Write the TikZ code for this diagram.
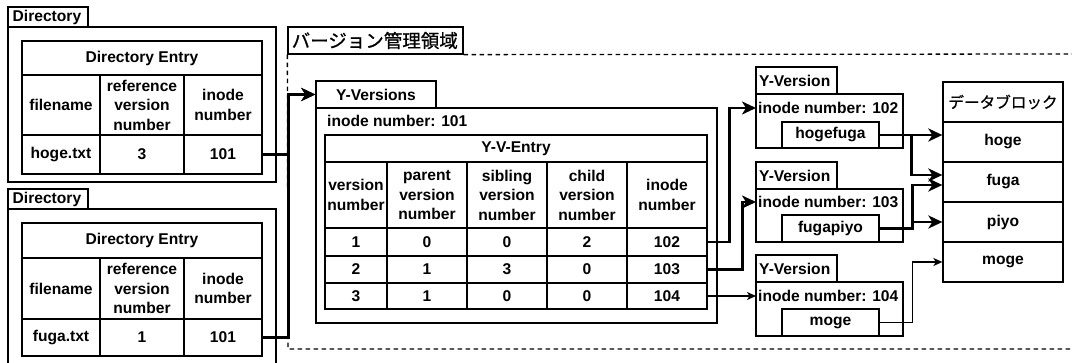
\documentclass[tikz,border=0pt]{standalone}
\usepackage{fontspec}
\setmainfont{Liberation Sans}
\newfontfamily\jpfont[FakeBold=0.8]{Noto Sans CJK JP}
\usetikzlibrary{arrows.meta}
\newcommand\cb[7][]{%
  \pgfmathsetmacro\cbx{(#3+#5)/2}%
  \pgfmathsetmacro\cby{(#4+#6)/2}%
  \pgfmathsetmacro\cbw{#5-#3}%
  \pgfmathsetmacro\cbh{#6-#4}%
  \node[cell,minimum width=\cbw pt,minimum height=\cbh pt,#1] (#2) at (\cbx,\cby) {#7};}
\begin{document}
\begin{tikzpicture}[x=1pt,y=-1pt,
  cell/.style={draw, line width=1.3pt, inner sep=0pt, align=center, font=\bfseries\fontsize{15.6}{19.5}\selectfont},
  txt/.style={inner sep=2pt, anchor=west, font=\bfseries\fontsize{15.6}{19.5}\selectfont},
  thk/.style={line width=2.6pt, -{Stealth[length=14pt,width=13pt,inset=4pt]}},
  thn/.style={line width=1.3pt, -{Stealth[length=9pt,width=8pt,inset=2.5pt]}},
  region/.style={line width=1.3pt, dash pattern=on 4.5pt off 3.5pt}]
\fill[white] (0,0) rectangle (1072,363);
\useasboundingbox (0,0) rectangle (1072,363);
\clip (0,0) rectangle (1072,363);

% Directory 1
\cb{d1lab}{8}{7}{88}{27}{}
\node[txt] (d1labt) at (10.5,17) {Directory};
\cb{d1box}{8}{27}{276}{182}{}
\cb{d1h}{22}{41}{262}{75}{Directory Entry}
\cb{d1c1}{22}{75}{100}{135}{filename}
\cb{d1c2}{100}{75}{184}{135}{reference\\version\\number}
\cb{d1c3}{184}{75}{262}{135}{inode\\number}
\cb{d1f}{22}{135}{100}{174}{hoge.txt}
\cb{d1r}{100}{135}{184}{174}{3}
\cb{d1i}{184}{135}{262}{174}{101}

% Directory 2
\cb{d2lab}{8}{189}{88}{209}{}
\node[txt] (d2labt) at (10.5,199) {Directory};
\cb{d2box}{8}{209}{276}{400}{}
\cb{d2h}{22}{223}{262}{258}{Directory Entry}
\cb{d2c1}{22}{258}{100}{319}{filename}
\cb{d2c2}{100}{258}{184}{319}{reference\\version\\number}
\cb{d2c3}{184}{258}{262}{319}{inode\\number}
\cb{d2f}{22}{319}{100}{356}{fuga.txt}
\cb{d2r}{100}{319}{184}{356}{1}
\cb{d2i}{184}{319}{262}{356}{101}

% Region
\cb{rlab}{288}{27}{463}{54}{}
\node[inner sep=2pt, anchor=west, font=\jpfont\fontsize{18.5}{20}\selectfont] (rlabt) at (289.5,40.5) {バージョン管理領域};
\draw[region] (rlab.south east) -- (1072,54);
\draw[region] (rlab.south west) -- (288,349) -- (1072,349);

% Y-Versions
\cb{yvl}{316}{81}{436}{108}{Y-Versions}
\cb{yvbox}{316}{108}{717}{323}{}
\node[txt] (yvi) at (325,121) {inode number: 101};
\cb{yeh}{325}{135}{707}{162}{Y-V-Entry}
\cb{h1}{325}{162}{387}{228}{version\\number}
\cb{h2}{387}{162}{467}{228}{parent\\version\\number}
\cb{h3}{467}{162}{547}{228}{sibling\\version\\number}
\cb{h4}{547}{162}{627}{228}{child\\version\\number}
\cb{h5}{627}{162}{707}{228}{inode\\number}
\cb{e1a}{325}{228}{387}{256}{1}
\cb{e1b}{387}{228}{467}{256}{0}
\cb{e1c}{467}{228}{547}{256}{0}
\cb{e1d}{547}{228}{627}{256}{2}
\cb{e1i}{627}{228}{707}{256}{102}
\cb{e2a}{325}{256}{387}{283}{2}
\cb{e2b}{387}{256}{467}{283}{1}
\cb{e2c}{467}{256}{547}{283}{3}
\cb{e2d}{547}{256}{627}{283}{0}
\cb{e2i}{627}{256}{707}{283}{103}
\cb{e3a}{325}{283}{387}{309}{3}
\cb{e3b}{387}{283}{467}{309}{1}
\cb{e3c}{467}{283}{547}{309}{0}
\cb{e3d}{547}{283}{627}{309}{0}
\cb{e3i}{627}{283}{707}{309}{104}

% Y-Version boxes
\cb{yv1l}{756}{67}{837}{94}{}
\node[txt] (yv1lt) at (757,80.5) {Y-Version};
\cb{yv1}{756}{94}{903}{148}{}
\node[txt] (yv1i) at (756,108) {inode number: 102};
\cb{hf}{782}{122}{879}{148}{hogefuga}

\cb{yv2l}{756}{162}{837}{189}{}
\node[txt] (yv2lt) at (757,175.5) {Y-Version};
\cb{yv2}{756}{189}{903}{242}{}
\node[txt] (yv2i) at (756,202) {inode number: 103};
\cb{fp}{782}{215}{879}{242}{fugapiyo}

\cb{yv3l}{756}{255}{837}{282}{}
\node[txt] (yv3lt) at (757,268.5) {Y-Version};
\cb{yv3}{756}{282}{903}{336}{}
\node[txt] (yv3i) at (756,296) {inode number: 104};
\cb{mg}{782}{309}{879}{336}{moge}

% Data blocks
\cb[font=\jpfont\fontsize{15.6}{19}\selectfont]{dbh}{943}{82}{1063}{122}{データブロック}
\cb{hoge}{943}{122}{1063}{162}{hoge}
\cb{fuga}{943}{162}{1063}{202}{fuga}
\cb{piyo}{943}{202}{1063}{242}{piyo}
\cb{moge}{943}{242}{1063}{282}{moge}

% Connectors
\draw[thk] (d1i.east) -- ++(26,0) |- (yvl.west);
\draw[thk] (d2i.east) -- ++(26,0) |- (yvl.west);
\draw[thk] (e1i.east) -- ++(22,0) |- (yv1i.west);
\draw[thk] (e2i.east) -- ++(35,0) |- (yv2i.west);
\draw[thn] (e3i.east) -- (yv3i.west);
\draw[thk] (hf.east) -- (hf.east -| hoge.west);
\draw[thk] (hf.east) -- ++(32,0) |- ([yshift=7pt]fuga.west);
\draw[thk] (fp.east) -- ++(33,0) |- ([yshift=-3pt]fuga.west);
\draw[thk] (fp.east) -- ++(33,0) |- (piyo.west);
\draw[thn] (mg.east) -- ++(33,0) |- (moge.west);
\end{tikzpicture}
\end{document}
